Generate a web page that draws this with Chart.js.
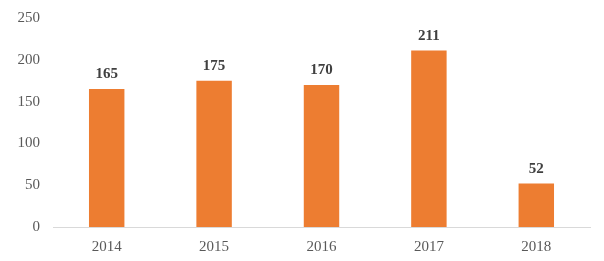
<!DOCTYPE html>
<html>
<head>
<meta charset="utf-8">
<script src="https://cdn.jsdelivr.net/npm/chart.js@4/dist/chart.umd.min.js"></script>
<style>
  html, body { margin: 0; padding: 0; background: #fff; }
  #wrap { width: 604px; height: 261px; position: relative; }
</style>
</head>
<body>
<div id="wrap"><canvas id="chart"></canvas></div>
<script>
const years = ['2014', '2015', '2016', '2017', '2018']
const counts = [165, 175, 170, 211, 52]
const yTicks = [0, 50, 100, 150, 200, 250]

const serif = '"Liberation Serif", "DejaVu Serif", serif'

// numbers above each bar
const barLabels = {
    id: 'barLabels',
    afterDatasetsDraw(chart) {
        const ctx = chart.ctx
        const meta = chart.getDatasetMeta(0)
        ctx.save()
        ctx.font = 'bold 15px ' + serif
        ctx.fillStyle = '#404040'
        ctx.textAlign = 'center'
        ctx.textBaseline = 'bottom'
        meta.data.forEach((bar, i) => {
            ctx.fillText(counts[i], bar.x, bar.y - 7)
        })
        ctx.restore()
    }
}

new Chart(document.getElementById('chart'), {
    type: 'bar',
    data: {
        labels: years,
        datasets: [{
            data: counts,
            backgroundColor: '#ED7D31',
            categoryPercentage: 1,
            barPercentage: 0.33
        }]
    },
    options: {
        responsive: true,
        maintainAspectRatio: false,
        animation: false,
        layout: { padding: { top: 18, right: 14, left: 0, bottom: 0 } },
        plugins: {
            legend: { display: false },
            tooltip: { enabled: false }
        },
        scales: {
            x: {
                grid: { display: false, drawTicks: false },
                border: { display: true, color: '#d9d9d9', width: 1 },
                ticks: {
                    color: '#595959',
                    font: { family: serif, size: 15 },
                    padding: 11
                },
                afterFit(scale) { scale.height = 34 }
            },
            y: {
                min: 0,
                max: 250,
                afterBuildTicks(scale) { scale.ticks = yTicks.map(v => ({ value: v })) },
                grid: { display: false, drawTicks: false },
                border: { display: false },
                ticks: {
                    color: '#595959',
                    font: { family: serif, size: 15 },
                    padding: 13
                },
                afterFit(scale) {
                    scale.width = 53
                    scale.paddingTop = 0
                    scale.paddingBottom = 0
                }
            }
        }
    },
    plugins: [barLabels]
})
</script>
</body>
</html>
